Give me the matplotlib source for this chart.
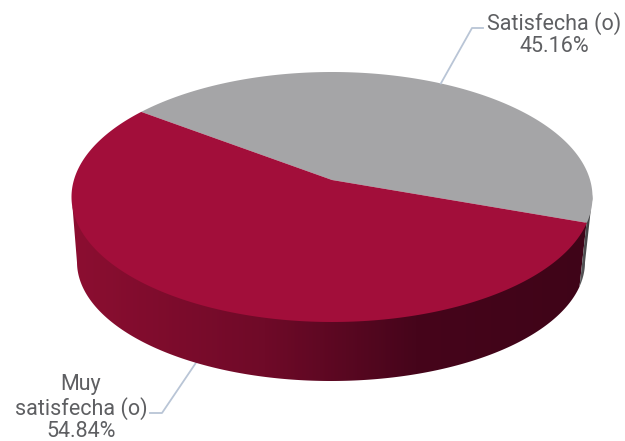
import numpy as np
import matplotlib
matplotlib.use('Agg')
import matplotlib.pyplot as plt
from matplotlib.colors import LinearSegmentedColormap
from matplotlib.patches import Polygon

labels = ['Satisfecha (o)', 'Muy\nsatisfecha (o)']
values = [45.16, 54.84]
colors = ['#a5a5a7', '#a20e3a']

start = 143.1  # degrees, slices run clockwise
a = -0.136     # how far the apex sits off the ellipse centre

# top and bottom rim of the pie in pixels: cx, cy, rx, ry
top = (332, 197, 260.5, 125)
bot = (331, 262, 254, 119)


def rim(t, e, r=1.0):
    # perspective projection of the unit disc on an ellipse
    x = r*np.cos(np.radians(t))
    y = -r*np.sin(np.radians(t))
    d = 1 + a*y
    return e[0] + e[2]*x*np.sqrt(1 - a**2)/d, e[1] + e[3]*(y + a)/d


def wall(t0, t1, cmap, x0, x1):
    # side wall between two angles, gradient clipped to its outline
    ts = np.linspace(t0, t1, 200)
    xa, ya = rim(ts, top)
    xb, yb = rim(ts[::-1], bot)
    # moved up a little under the top face, no light seam
    outline = Polygon(np.c_[np.r_[xa, xb], np.r_[ya - 3, yb]], fc='none', ec='none', transform=ax.transData)
    ax.add_patch(outline)
    im = ax.imshow(np.linspace(0, 1, 256)[None, :], cmap=cmap, extent=(x0, x1, 441, 0), aspect='auto', zorder=1)
    im.set_clip_path(outline)


sweep = [v/sum(values)*360 for v in values]
edges = [start, start - sweep[0], start - sweep[0] - sweep[1]]

fig = plt.figure(figsize=(6.25, 4.41), dpi=100)
ax = fig.add_axes([0, 0, 1, 1])

red_side = LinearSegmentedColormap.from_list('r', [(0, '#8c0e31'), (0.37, '#6f0a28'), (0.66, '#46051b'), (1, '#3f0418')])
grey_side = LinearSegmentedColormap.from_list('g', ['#666668', '#3a3a3c'])

# only the front of the wall shows, it stops where the rim turns back
wall(edges[1], -172, red_side, 72, 593)
wall(edges[1], -8, grey_side, 575, 593)

ax.set_xlim(0, 625)
ax.set_ylim(441, 0)
ax.axis('off')

# top face
apex = rim(0, top, 0)
for i in range(2):
    ts = np.linspace(edges[i], edges[i+1], 200)
    xs, ys = rim(ts, top)
    ax.add_patch(Polygon(np.r_[[apex], np.c_[xs, ys]], fc=colors[i], ec='none', zorder=3))

# leader lines
line_col = '#b9c5d6'
x0, y0 = rim(edges[0] - sweep[0]/2, top)
ax.plot([x0, 472, 483], [y0, 28, 28], color=line_col, lw=1.3, zorder=4)
x1, y1 = rim(edges[1] - sweep[1]/2, bot)
ax.plot([x1, 162, 150], [y1, 413, 413], color=line_col, lw=1.3, zorder=0.5)

txt = dict(family='Roboto', fontsize=15.5, color='#5e5f62', ha='center', va='center', linespacing=1.08)
ax.text(554, 34.5, '%s\n%.2f%%' % (labels[0], values[0]), **txt)
ax.text(81, 408, '%s\n%.2f%%' % (labels[1], values[1]), **txt)

fig.savefig('out.png', dpi=100)
